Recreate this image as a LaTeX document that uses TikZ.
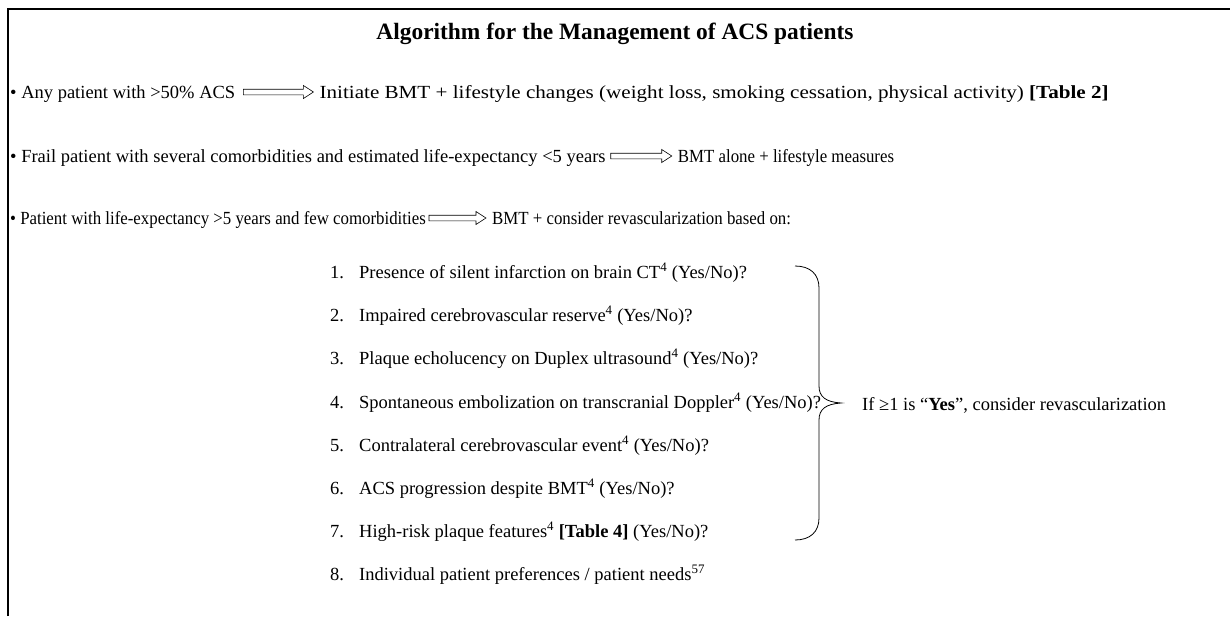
\documentclass[tikz,border=0pt]{standalone}
\usepackage{fontspec}
\setmainfont{Liberation Serif}
\usetikzlibrary{calc}

\tikzset{
    txt/.style={inner sep=0pt, anchor=base west, font=\fontsize{18.5}{22}\selectfont},
    item/.style={txt},
    hollowarr/.style={line width=0.6pt, to path={let \p1=(\tikztostart), \p2=(\tikztotarget) in
        (\x1,\y1+2.8pt) -- (\x2-10pt,\y1+2.8pt) -- (\x2-10pt,\y1+6.5pt) -- (\x2,\y1)
        -- (\x2-10pt,\y1-6.5pt) -- (\x2-10pt,\y1-2.8pt) -- (\x1,\y1-2.8pt) -- cycle}},
    brace/.style={line width=0.8pt}
}
\newcommand{\num}[1]{\makebox[29pt][l]{#1}}
\newcommand{\squeeze}[1]{\scalebox{0.91}[1]{#1}}
\newcommand{\widen}[1]{\scalebox{1.14}[1]{#1}}

\begin{document}
\begin{tikzpicture}[x=1pt, y=-1pt]
    \useasboundingbox (0,0) rectangle (1230,616);
    \draw[line width=1.3pt] (8,616) -- (8,9) -- (1230,9);

    \node[anchor=base, inner sep=0pt, font=\fontsize{23.4}{27}\selectfont\bfseries] (title) at (615,39)
        {Algorithm for the Management of ACS patients};

    % three groups of patients
    \node[txt] (any) at (10,98) {\textbullet\ Any patient with >50\% ACS};
    \node[txt] (bmt) at ([xshift=84pt]any.base east) {\widen{Initiate BMT + lifestyle changes (weight loss, smoking cessation, physical activity) \textbf{[Table 2]}}};
    \node[txt] (frail) at (10,162) {\textbullet\ Frail patient with several comorbidities and estimated life-expectancy <5 years};
    \node[txt] (alone) at ([xshift=72pt]frail.base east) {\squeeze{BMT alone + lifestyle measures}};
    \node[txt] (few) at (10,224) {\squeeze{\textbullet\ Patient with life-expectancy >5 years and few comorbidities}};
    \node[txt] (revasc) at ([xshift=66pt]few.base east) {\squeeze{BMT + consider revascularization based on:}};

    \draw[hollowarr] ([xshift=8pt,yshift=6pt]any.base east) to ([xshift=-6pt,yshift=6pt]bmt.base west);
    \draw[hollowarr] ([xshift=5pt,yshift=6pt]frail.base east) to ([xshift=-6pt,yshift=6pt]alone.base west);
    \draw[hollowarr] ([xshift=3pt,yshift=6pt]few.base east) to ([xshift=-6pt,yshift=6pt]revasc.base west);

    % criteria
    \node[item] (c1) at (330,278) {\num{1.}Presence of silent infarction on brain CT\textsuperscript{4} (Yes/No)?};
    \node[item] (c2) at (330,321) {\num{2.}Impaired cerebrovascular reserve\textsuperscript{4} (Yes/No)?};
    \node[item] (c3) at (330,364) {\num{3.}Plaque echolucency on Duplex ultrasound\textsuperscript{4} (Yes/No)?};
    \node[item] (c4) at (330,408) {\num{4.}Spontaneous embolization on transcranial Doppler\textsuperscript{4} (Yes/No)?};
    \node[item] (c5) at (330,451) {\num{5.}Contralateral cerebrovascular event\textsuperscript{4} (Yes/No)?};
    \node[item] (c6) at (330,494) {\num{6.}ACS progression despite BMT\textsuperscript{4} (Yes/No)?};
    \node[item] (c7) at (330,537) {\num{7.}High-risk plaque features\textsuperscript{4} \textbf{[Table 4]} (Yes/No)?};
    \node[item] (c8) at (330,580) {\num{8.}Individual patient preferences / patient needs\textsuperscript{57}};

    \draw[brace] (795,266) .. controls (810,266) and (819,274) .. (819,288) -- (819,386)
        .. controls (819,397) and (826,402) .. (841,403)
        .. controls (826,404) and (819,409) .. (819,420) -- (819,518)
        .. controls (819,532) and (810,540) .. (795,540);
    \node[txt] (rule) at (862,410) {If \symbol{"2265}1 is \textquotedblleft\textbf{Yes}\textquotedblright, consider revascularization};
\end{tikzpicture}
\end{document}
